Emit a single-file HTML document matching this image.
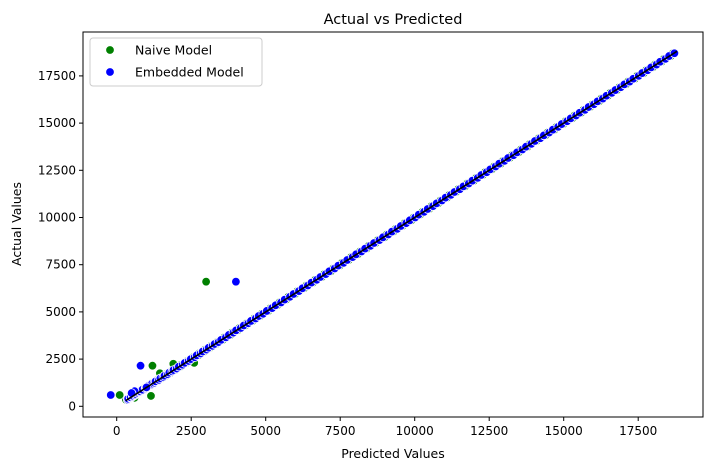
<!DOCTYPE html>
<html><head><meta charset="utf-8">
<style>
body{margin:0;background:#fff;font-family:"Liberation Sans","DejaVu Sans",sans-serif;}
svg text{font-family:"DejaVu Sans","Liberation Sans",sans-serif;}
</style></head>
<body>
<svg id="chart" width="713" height="470" xmlns="http://www.w3.org/2000/svg">
<rect width="713" height="470" fill="#fff"/>
<g id="marks"></g>
<g id="axes"></g>
</svg>
<script>
const xTicks=[0,2500,5000,7500,10000,12500,15000,17500];
const yTicks=[0,2500,5000,7500,10000,12500,15000,17500];
const actualVals=[350,400,450,480,520,560,600,650,700,720,760,800,850,880,950,1000,1050,1100,1150,1200,1250,1320,1400,1480,1550,1620,1700,1780,1850,1920,2000,2100,2200,2300,2400,2500,2600,2700,2800,2900,3000,3100,3200,3300,3400,3520,3650,3780,3900,4020,4150,4280,4400,4520,4650,4780,4900,5050,5200,5350,5500,5650,5800,5950,6100,6250,6400,6550,6700,6850,7000,7150,7300,7450,7600,7750,7900,8050,8200,8350,8500,8650,8800,8950,9100,9250,9400,9550,9700,9850,10000,10150,10300,10450,10600,10750,10900,11050,11200,11350,11500,11650,11800,11950,12100,12250,12400,12550,12700,12850,13000,13150,13300,13450,13600,13750,13900,14050,14200,14350,14500,14650,14800,14950,15100,15250,15400,15550,15700,15850,16000,16150,16300,16450,16600,16750,16900,17050,17200,17350,17500,17650,17800,17950,18100,18250,18400,18550,18700];
const naiveOutX=[3000,1200,1150,100,600,1900,2600,1450];
const naiveOutY=[6600,2150,550,600,450,2250,2300,1750];
const embedOutX=[4000,800,-200,1000,600,500];
const embedOutY=[6600,2150,600,1000,800,700];
const lineX=[300,18800];
const lineY=[300,18800];

const L=83,R=703,T=32,B=417;
const sx=v=>116.7+v*(74.5/2500);
const sy=v=>406.3-v*(47.2/2500);
const NS="http://www.w3.org/2000/svg";
function mk(tag,attrs,parent){const e=document.createElementNS(NS,tag);for(const k in attrs)e.setAttribute(k,attrs[k]);parent.appendChild(e);return e;}
const marks=document.getElementById('marks');
const axes=document.getElementById('axes');

function dot(x,y,color,name){
  const c=mk('circle',{cx:sx(x),cy:sy(y),r:4.3,fill:color,stroke:'#fff','stroke-width':0.8},marks);
  
  
}
actualVals.forEach((v,i)=>{dot(v+(i%2?40:-40),v,'green','naive-point');});
naiveOutX.forEach((x,i)=>{dot(x,naiveOutY[i],'green','naive-point');});
actualVals.forEach((v,i)=>{dot(v+(i%2?-15:15),v,'blue','embedded-point');});
embedOutX.forEach((x,i)=>{dot(x,embedOutY[i],'blue','embedded-point');});
const ln=mk('line',{x1:sx(lineX[0]),y1:sy(lineY[0]),x2:sx(lineX[1]),y2:sy(lineY[1]),stroke:'#000','stroke-width':1.6},marks);



const frame=mk('rect',{x:L,y:T,width:R-L,height:B-T,fill:'none',stroke:'#000','stroke-width':1},axes);


xTicks.forEach(t=>{
  mk('line',{x1:sx(t),x2:sx(t),y1:B,y2:B+4,stroke:'#000'},axes);
  const tx=mk('text',{x:sx(t),y:B+18,'text-anchor':'middle','font-size':12},axes);
  tx.textContent=t;
  
  
});
yTicks.forEach(t=>{
  mk('line',{x1:L-4,x2:L,y1:sy(t),y2:sy(t),stroke:'#000'},axes);
  const tx=mk('text',{x:L-7,y:sy(t)+4,'text-anchor':'end','font-size':12},axes);
  tx.textContent=t;
  
  
});
</script>
<svg style="position:absolute;left:0;top:0" width="713" height="470" xmlns="http://www.w3.org/2000/svg">
<text x="393" y="24" text-anchor="middle" font-size="14.5">Actual vs Predicted</text>
<text x="393" y="458" text-anchor="middle" font-size="12.5">Predicted Values</text>
<text x="21" y="224" text-anchor="middle" font-size="12.5" transform="rotate(-90 21 224)">Actual Values</text>
<g>
<rect x="90" y="38" width="172" height="48" rx="3" fill="#fff" fill-opacity="0.8" stroke="#ccc"/>
<circle cx="110" cy="50" r="4.3" fill="green" stroke="#fff" stroke-width="0.8"/>
<text x="135" y="54.5" font-size="12.5">Naive Model</text>
<circle cx="110" cy="72" r="4.3" fill="blue" stroke="#fff" stroke-width="0.8"/>
<text x="135" y="76.5" font-size="12.5">Embedded Model</text>
</g>
</svg>
</body></html>
